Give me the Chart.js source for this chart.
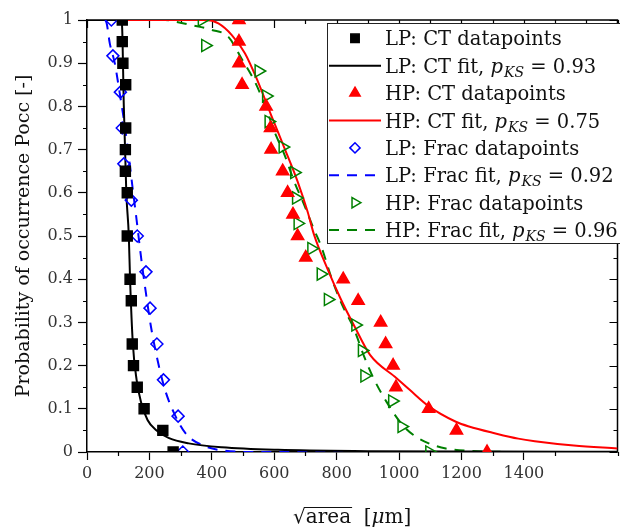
<!DOCTYPE html>
<html>
<head>
<meta charset="utf-8">
<script src="https://cdn.jsdelivr.net/npm/chart.js@4.4.0/dist/chart.umd.min.js"></script>
<style>
  html, body { margin: 0; padding: 0; background: #fff; overflow: hidden; }
  #wrap { position: relative; width: 626px; height: 531px; }
</style>
</head>
<body>
<div id="wrap"><canvas id="chart"></canvas></div>
<script>
// Values (x = sqrt(area) in um, y = probability)

// LP: CT datapoints
const lpCtX = [113, 113, 115, 124, 124, 123, 123, 129, 129, 138, 142, 145, 149, 161, 183, 243, 276];
const lpCtY = [1.0, 0.95, 0.90, 0.85, 0.75, 0.70, 0.65, 0.60, 0.50, 0.40, 0.35, 0.25, 0.20, 0.15, 0.10, 0.05, 0.0];
// LP: CT fit
const lpCtFitX = [0, 105, 112, 118, 126, 134, 138, 147, 159, 173, 194, 221, 263, 326, 432, 612, 900, 1300, 1700];
const lpCtFitY = [1, 1, 0.99, 0.80, 0.60, 0.50, 0.40, 0.25, 0.167, 0.116, 0.074, 0.051, 0.032, 0.02, 0.011, 0.005, 0.002, 0.001, 0.0005];

// HP: CT datapoints
const hpCtX = [487, 487, 487, 497, 574, 588, 590, 627, 643, 660, 675, 701, 821, 869, 941, 957, 981, 990, 1095, 1184, 1282];
const hpCtY = [1, 0.95, 0.90, 0.85, 0.80, 0.75, 0.70, 0.65, 0.60, 0.55, 0.50, 0.45, 0.40, 0.35, 0.30, 0.25, 0.20, 0.15, 0.10, 0.05, 0];
// HP: CT fit
const hpCtFitX = [0, 380, 421, 464, 506, 548, 590, 633, 675, 707, 728, 770, 812, 855, 907, 992, 1034, 1097, 1182, 1224, 1309, 1382, 1435, 1560, 1700];
const hpCtFitY = [1, 1, 0.992, 0.965, 0.923, 0.857, 0.78, 0.703, 0.626, 0.556, 0.502, 0.425, 0.356, 0.294, 0.225, 0.171, 0.144, 0.105, 0.07, 0.059, 0.043, 0.031, 0.025, 0.015, 0.008];

// LP: Frac datapoints
const lpFracX = [78, 83, 107, 113, 118, 142, 161, 189, 202, 224, 245, 292, 307];
const lpFracY = [1, 0.917, 0.833, 0.75, 0.667, 0.583, 0.5, 0.417, 0.333, 0.25, 0.167, 0.083, 0];
// LP: Frac fit
const lpFracFitX = [0, 55, 62, 73, 89, 105, 120, 134, 147, 159, 173, 189, 205, 226, 250, 279, 316, 369, 443, 550, 1700];
const lpFracFitY = [1, 1, 0.995, 0.946, 0.90, 0.83, 0.76, 0.684, 0.606, 0.537, 0.452, 0.367, 0.29, 0.213, 0.144, 0.09, 0.043, 0.016, 0.003, 0, 0];

// HP: Frac datapoints
const hpFracX = [368, 379, 550, 574, 582, 627, 664, 670, 675, 719, 749, 772, 860, 881, 889, 978, 1008, 1097];
const hpFracY = [1, 0.941, 0.882, 0.824, 0.765, 0.706, 0.647, 0.588, 0.529, 0.471, 0.412, 0.353, 0.294, 0.235, 0.176, 0.118, 0.059, 0];
// HP: Frac fit
const hpFracFitX = [0, 250, 284, 337, 400, 453, 495, 538, 574, 601, 633, 664, 696, 728, 749, 786, 818, 855, 886, 918, 960, 1008, 1045, 1095, 1150, 1250, 1400, 1700];
const hpFracFitY = [1, 1, 0.996, 0.988, 0.977, 0.961, 0.911, 0.857, 0.796, 0.741, 0.688, 0.626, 0.572, 0.514, 0.479, 0.398, 0.34, 0.286, 0.225, 0.171, 0.116, 0.065, 0.04, 0.02, 0.008, 0.002, 0, 0];

// Legend text
const seriesNames = ['LP: CT', 'HP: CT', 'LP: Frac', 'HP: Frac'];
const pKS = ['0.93', '0.75', '0.92', '0.96'];

// Axis titles
const yTitle = 'Probability of occurrence Pocc [-]';

const SERIF = "'DejaVu Serif', serif";

function pts(xs, ys) {
  return xs.map((x, i) => ({ x: x, y: ys[i] }));
}

function markerSet(label, xs, ys, style, color, fill, radius, rotation) {
  return {
    label: label,
    data: pts(xs, ys),
    showLine: false,
    pointStyle: style,
    pointRadius: radius,
    pointRotation: rotation || 0,
    pointBorderColor: color,
    pointBackgroundColor: fill,
    pointBorderWidth: 1.5,
    clip: 0,
    order: 0
  };
}

function fitSet(label, xs, ys, color, dash) {
  return {
    label: label,
    data: pts(xs, ys),
    showLine: true,
    borderColor: color,
    borderWidth: 2,
    borderDash: dash,
    pointRadius: 0,
    cubicInterpolationMode: 'monotone',
    clip: 0,
    order: 1
  };
}

const datasets = [
  markerSet('LP: CT datapoints', lpCtX, lpCtY, 'rect', '#000', '#000', 7),
  fitSet('LP: CT fit', lpCtFitX, lpCtFitY, '#000', []),
  markerSet('HP: CT datapoints', hpCtX, hpCtY, 'triangle', '#ff0000', '#ff0000', 7),
  fitSet('HP: CT fit', hpCtFitX, hpCtFitY, '#ff0000', []),
  markerSet('LP: Frac datapoints', lpFracX, lpFracY, 'rectRot', '#0000ff', 'rgba(0,0,0,0)', 6),
  fitSet('LP: Frac fit', lpFracFitX, lpFracFitY, '#0000ff', [10, 8]),
  markerSet('HP: Frac datapoints', hpFracX, hpFracY, 'triangle', '#008000', 'rgba(0,0,0,0)', 7, 90),
  fitSet('HP: Frac fit', hpFracFitX, hpFracFitY, '#008000', [10, 8])
];

// legend rows: dataset index + text pieces
function fitParts(name, p) {
  return [{ t: name + ' fit, ' }, { t: 'p', it: true }, { t: 'KS', it: true, sub: true }, { t: ' = ' + p }];
}
const legendRows = [
  { ds: 0, parts: [{ t: seriesNames[0] + ' datapoints' }] },
  { ds: 1, parts: fitParts(seriesNames[0], pKS[0]) },
  { ds: 2, parts: [{ t: seriesNames[1] + ' datapoints' }] },
  { ds: 3, parts: fitParts(seriesNames[1], pKS[1]) },
  { ds: 4, parts: [{ t: seriesNames[2] + ' datapoints' }] },
  { ds: 5, parts: fitParts(seriesNames[2], pKS[2]) },
  { ds: 6, parts: [{ t: seriesNames[3] + ' datapoints' }] },
  { ds: 7, parts: fitParts(seriesNames[3], pKS[3]) }
];

// top/right spines plus the minor and mirrored tick marks
const framePlugin = {
  id: 'frame',
  beforeDatasetsDraw(chart) {
    const { ctx, chartArea: a, scales } = chart;
    const xs = scales.x, ys = scales.y;
    ctx.save();
    ctx.strokeStyle = '#000';
    ctx.lineWidth = 1.5;
    ctx.beginPath();
    ctx.moveTo(a.left, a.top);
    ctx.lineTo(a.right, a.top);
    ctx.lineTo(a.right, a.bottom);
    ctx.stroke();

    ctx.lineWidth = 1.2;
    ctx.beginPath();
    for (let v = 0; v <= 1700; v += 100) {
      const px = Math.round(xs.getPixelForValue(v)) + 0.5;
      const major = v % 200 === 0;
      ctx.moveTo(px, a.top);
      ctx.lineTo(px, a.top + (major ? 8 : 4));
      if (!major) {
        ctx.moveTo(px, a.bottom);
        ctx.lineTo(px, a.bottom + 4);
      }
    }
    for (let i = 0; i <= 20; i++) {
      const py = Math.round(ys.getPixelForValue(i * 0.05)) + 0.5;
      const major = i % 2 === 0;
      ctx.moveTo(a.right, py);
      ctx.lineTo(a.right - (major ? 8 : 4), py);
      if (!major) {
        ctx.moveTo(a.left, py);
        ctx.lineTo(a.left - 4, py);
      }
    }
    ctx.stroke();
    ctx.restore();
  }
};

function drawRich(ctx, parts, x, y, size) {
  let cx = x;
  parts.forEach(p => {
    const fs = p.sub ? Math.round(size * 0.7) : size;
    ctx.font = (p.it ? 'italic ' : '') + fs + 'px ' + SERIF;
    ctx.fillText(p.t, cx, p.sub ? y + 4 : y);
    cx += ctx.measureText(p.t).width + (p.it && !p.sub ? 1 : 0);
  });
  return cx;
}

const legendPlugin = {
  id: 'texLegend',
  afterDraw(chart) {
    const ctx = chart.ctx;
    const boxL = 327.5, boxT = 23.5, boxB = 243.5;
    ctx.save();
    ctx.fillStyle = '#fff';
    ctx.strokeStyle = '#222';
    ctx.lineWidth = 1;
    ctx.fillRect(boxL, boxT, 400, boxB - boxT);
    ctx.strokeRect(boxL, boxT, 400, boxB - boxT);

    legendRows.forEach((row, i) => {
      const y = 38.3 + i * 27.4;
      const ds = chart.data.datasets[row.ds];
      if (ds.showLine) {
        ctx.save();
        ctx.strokeStyle = ds.borderColor;
        ctx.lineWidth = ds.borderWidth;
        ctx.setLineDash(ds.borderDash || []);
        ctx.beginPath();
        ctx.moveTo(329, y);
        ctx.lineTo(381, y);
        ctx.stroke();
        ctx.restore();
      } else {
        ctx.save();
        ctx.strokeStyle = ds.pointBorderColor;
        ctx.fillStyle = ds.pointBackgroundColor;
        ctx.lineWidth = ds.pointBorderWidth;
        const r = ds.pointRadius * 0.85;
        Chart.helpers.drawPoint(ctx, {
          pointStyle: ds.pointStyle, radius: r, rotation: ds.pointRotation, borderWidth: ds.pointBorderWidth
        }, 355, y);
        ctx.restore();
      }
      ctx.fillStyle = '#111';
      ctx.textBaseline = 'alphabetic';
      ctx.textAlign = 'left';
      drawRich(ctx, row.parts, 385, y + 7, 19.5);
    });

    // x-axis title: sqrt(area) [um]
    const a = chart.chartArea;
    const cx = (a.left + a.right) / 2;
    const base = 523;
    ctx.fillStyle = '#111';
    ctx.strokeStyle = '#111';
    const f = '20px ' + SERIF;
    const fi = 'italic 20px ' + SERIF;
    ctx.font = f;
    const wRoot = ctx.measureText('\u221A').width;
    const wArea = ctx.measureText('area').width;
    const wGap = ctx.measureText('  [').width;
    ctx.font = fi;
    const wMu = ctx.measureText('\u03BC').width;
    ctx.font = f;
    const wEnd = ctx.measureText('m]').width;
    const total = wRoot + wArea + wGap + wMu + wEnd;
    let x = cx - total / 2;
    const asc = ctx.measureText('\u221A').actualBoundingBoxAscent || 15;
    ctx.fillText('\u221A', x, base);
    x += wRoot;
    ctx.fillText('area', x, base);
    ctx.lineWidth = 1;
    ctx.beginPath();
    ctx.moveTo(x - 1, base - asc + 0.5);
    ctx.lineTo(x + wArea + 1, base - asc + 0.5);
    ctx.stroke();
    x += wArea;
    ctx.fillText('  [', x, base);
    x += wGap;
    ctx.font = fi;
    ctx.fillText('\u03BC', x, base);
    x += wMu;
    ctx.font = f;
    ctx.fillText('m]', x, base);
    ctx.restore();
  }
};

const tickFont = { family: SERIF, size: 16 };

new Chart(document.getElementById('chart'), {
  type: 'scatter',
  data: { datasets: datasets },
  options: {
    responsive: true,
    maintainAspectRatio: false,
    animation: false,
    devicePixelRatio: 1,
    layout: { padding: { left: 0, top: 20, right: 2, bottom: 0 } },
    plugins: {
      legend: { display: false },
      tooltip: { enabled: false }
    },
    scales: {
      x: {
        type: 'linear',
        min: 0,
        max: 1700,
        afterFit: s => { s.height = 79; },
        afterBuildTicks: s => { s.ticks = s.ticks.filter(t => t.value % 200 === 0); },
        ticks: { stepSize: 200, font: tickFont, color: '#333', padding: 4, maxRotation: 0, callback: v => String(v) },
        grid: { drawOnChartArea: false, drawTicks: true, tickLength: 8, tickColor: '#000', tickWidth: 1.2 },
        border: { color: '#000', width: 1.5 }
      },
      y: {
        type: 'linear',
        min: 0,
        max: 1,
        afterFit: s => { s.width = 87; },
        ticks: {
          stepSize: 0.1, font: tickFont, color: '#333', padding: 5,
          callback: v => String(Math.round(v * 10) / 10)
        },
        grid: { drawOnChartArea: false, drawTicks: true, tickLength: 9, tickColor: '#000', tickWidth: 1.2 },
        border: { color: '#000', width: 1.5 },
        title: {
          display: true,
          text: yTitle,
          color: '#111',
          font: { family: SERIF, size: 19 },
          padding: { top: 13, bottom: 0 }
        }
      }
    }
  },
  plugins: [framePlugin, legendPlugin]
});
</script>
</body>
</html>
